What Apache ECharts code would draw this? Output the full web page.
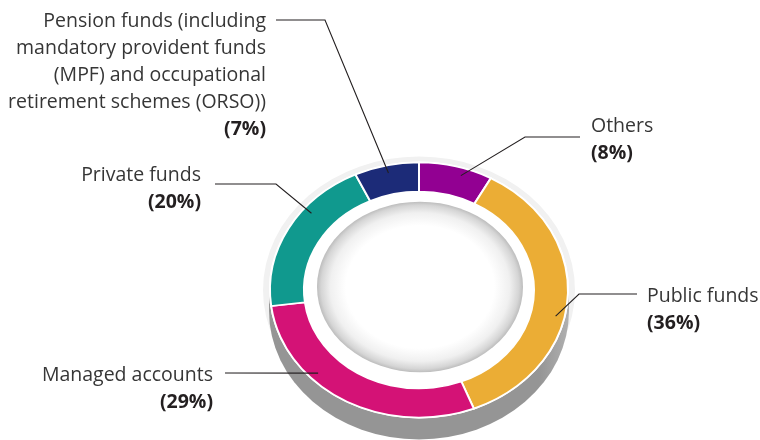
<!DOCTYPE html>
<html>
<head>
<meta charset="utf-8">
<script src="https://cdn.jsdelivr.net/npm/echarts@6/dist/echarts.min.js"></script>
<style>
  html, body { margin: 0; padding: 0; background: #fff; }
  #chart { width: 760px; height: 440px; }
</style>
</head>
<body>
<div id="chart"></div>
<script>
// slices, clockwise from 12 o'clock
var names = [
  'Others',
  'Public funds',
  'Managed accounts',
  'Private funds',
  'Pension funds (including\nmandatory provident funds\n(MPF) and occupational\nretirement schemes (ORSO))'
];
var shares = [8, 36, 29, 20, 7];
var colors = ['#920092', '#ebad35', '#d41276', '#10998e', '#1c2b78'];

// label text anchor + leader line start/elbow, shift = degrees the leader end moves off the slice middle
var labelPos = [
  { x: 591, y: 113, align: 'left',  start: [580, 137], elbow: [525, 137], shift: 3 },
  { x: 647, y: 283, align: 'left',  start: [637, 294], elbow: [579, 294], shift: 9 },
  { x: 213, y: 362, align: 'right', start: [225, 373], elbow: null,       shift: 15.5 },
  { x: 201, y: 162, align: 'right', start: [215, 184], elbow: [276, 184], shift: 11 },
  { x: 266, y: 8,   align: 'right', start: [276, 20],  elbow: [325, 20],  shift: 0 }
];

var CX = 419, CY = 290, SY = 0.856;
var R_OUT = 149, R_IN = 115, R_LEAD = 140;
var FONT = '19.5px "Open Sans"';
var LH = 27;

var total = shares.reduce(function (a, b) { return a + b; }, 0);
var startDeg = [];
shares.reduce(function (acc, v, i) { startDeg[i] = acc; return acc + v / total * 360; }, 0);

// degrees clockwise from top -> zrender radians
function toRad(deg) { return (deg - 90) * Math.PI / 180; }

function renderItem(params, api) {
  var i = params.dataIndex;
  var v = api.value(0);
  var a0 = startDeg[i];
  var a1 = a0 + v / total * 360;
  var lp = labelPos[i];
  var ea = toRad((a0 + a1) / 2 + lp.shift);
  var end = [CX + R_LEAD * Math.cos(ea), CY + R_LEAD * SY * Math.sin(ea)];
  var pts = [lp.start];
  if (lp.elbow) pts.push(lp.elbow);
  pts.push(end);
  var nLines = names[i].split('\n').length;
  return {
    type: 'group',
    children: [
      {
        type: 'group', x: CX, y: CY, scaleY: SY,
        children: [{
          type: 'sector',
          shape: { cx: 0, cy: 0, r0: R_IN, r: R_OUT, startAngle: toRad(a0), endAngle: toRad(a1), clockwise: true },
          style: { fill: colors[i], stroke: '#fff', lineWidth: 2 }
        }]
      },
      {
        type: 'polyline',
        shape: { points: pts },
        style: { stroke: '#231f20', lineWidth: 1.1, fill: null }
      },
      {
        type: 'text', x: lp.x, y: lp.y,
        style: { text: names[i], font: FONT, fill: '#363636', align: lp.align, verticalAlign: 'top', lineHeight: LH }
      },
      {
        type: 'text', x: lp.x, y: lp.y + nLines * LH,
        style: { text: '(' + v + '%)', font: 'bold ' + FONT, fill: '#231f20', align: lp.align, verticalAlign: 'top', lineHeight: LH }
      }
    ]
  };
}

var chart = echarts.init(document.getElementById('chart'));

var option = {
  animation: false,
  graphic: [
    // light rim behind the ring
    { type: 'circle', x: CX, y: CY, scaleY: SY, shape: { cx: 0, cy: 0, r: 156 }, style: { fill: '#f1f1f1' }, z: 0 },
    // grey side of the disc
    {
      type: 'rect', shape: { x: CX - 150, y: CY, width: 300, height: 21 }, z: 0,
      style: {
        fill: new echarts.graphic.LinearGradient(0, 0, 1, 0, [
          { offset: 0, color: '#959595' },
          { offset: 0.9, color: '#959595' },
          { offset: 1, color: '#b0b0b0' }
        ])
      }
    },
    {
      type: 'circle', x: CX, y: CY + 21, scaleY: SY, shape: { cx: 0, cy: 0, r: 150 }, z: 0,
      style: {
        fill: new echarts.graphic.LinearGradient(0, 0, 1, 0, [
          { offset: 0, color: '#959595' },
          { offset: 0.9, color: '#959595' },
          { offset: 1, color: '#b0b0b0' }
        ])
      }
    },
    { type: 'circle', x: CX, y: CY, scaleY: SY, shape: { cx: 0, cy: 0, r: 150 }, style: { fill: '#fff' }, z: 0 },
    // hollow centre with soft inner shadow
    {
      type: 'circle', x: CX + 1, y: CY - 3, scaleY: 0.828, shape: { cx: 0, cy: 0, r: 103 }, z: 0,
      style: {
        fill: new echarts.graphic.RadialGradient(0.5, 0.5, 0.5, [
          { offset: 0, color: '#ffffff' },
          { offset: 0.72, color: '#ffffff' },
          { offset: 0.87, color: '#f0f0f0' },
          { offset: 0.96, color: '#d5d5d5' },
          { offset: 1, color: '#bdbdbd' }
        ])
      }
    }
  ],
  series: [{
    type: 'custom',
    coordinateSystem: 'none',
    renderItem: renderItem,
    data: shares
  }]
};

chart.setOption(option);
</script>
</body>
</html>
